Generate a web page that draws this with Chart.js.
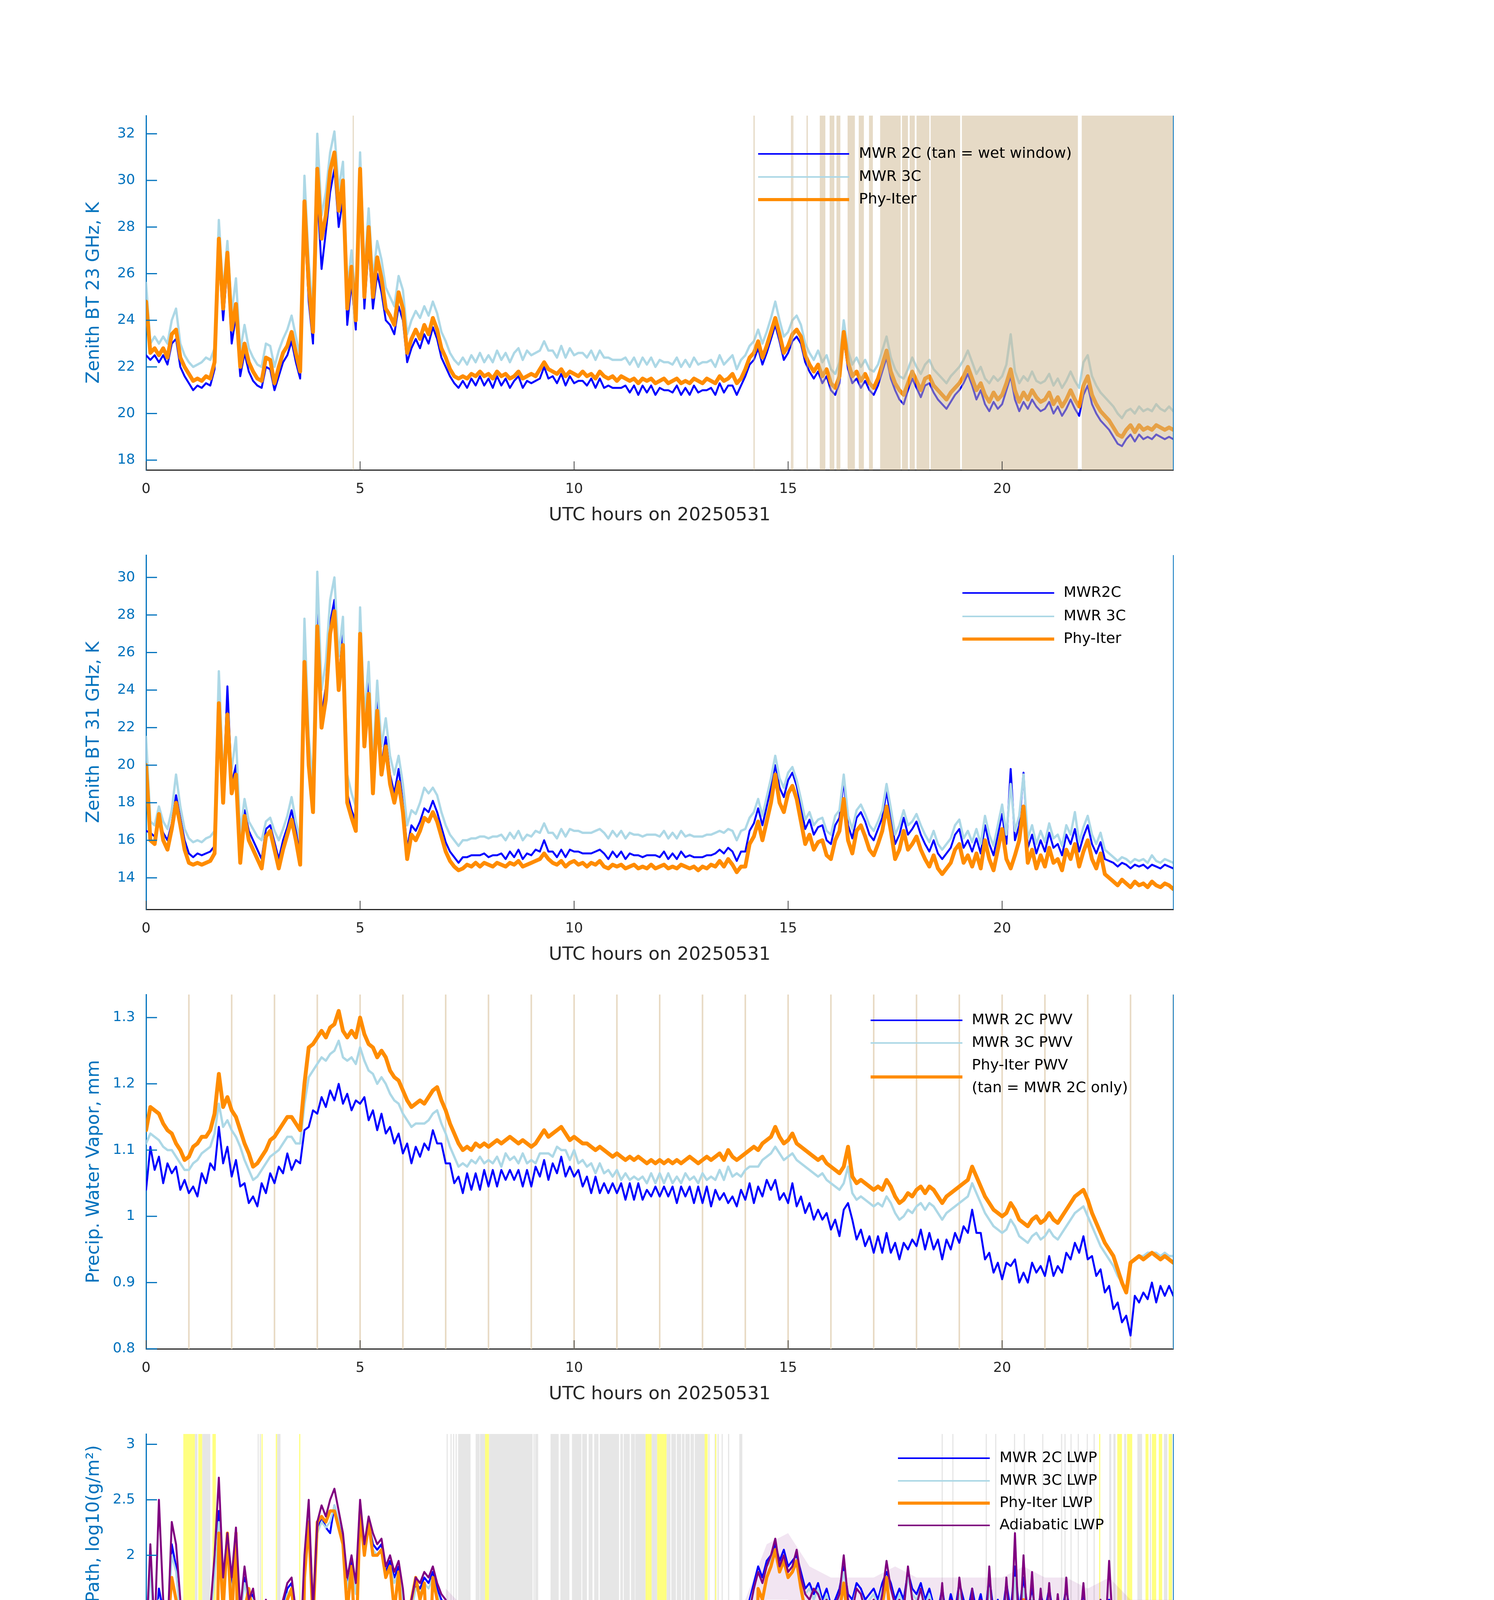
<!DOCTYPE html>
<html><head><meta charset="utf-8">
<script src="https://cdn.jsdelivr.net/npm/chart.js@4.4.1/dist/chart.umd.min.js"></script>
<style>
html,body{margin:0;padding:0;background:#fff;}
body{width:3825px;height:6000px;position:relative;overflow:hidden;}
canvas{position:absolute;left:0;}
</style></head><body>
<canvas id="c1" width="3825" height="1400" style="top:0px"></canvas>
<canvas id="c2" width="3825" height="1400" style="top:1125px"></canvas>
<canvas id="c3" width="3825" height="1400" style="top:2250px"></canvas>
<canvas id="c4" width="3825" height="1400" style="top:3375px"></canvas>
<canvas id="c5" width="3825" height="1400" style="top:4500px"></canvas>
<script>
// ---------------- DATA ----------------
const HOURS = [
0,0.1,0.2,0.3,0.4,0.5,0.6,0.7,0.8,0.9,
1,1.1,1.2,1.3,1.4,1.5,1.6,1.7,1.8,1.9,
2,2.1,2.2,2.3,2.4,2.5,2.6,2.7,2.8,2.9,
3,3.1,3.2,3.3,3.4,3.5,3.6,3.7,3.8,3.9,
4,4.1,4.2,4.3,4.4,4.5,4.6,4.7,4.8,4.9,
5,5.1,5.2,5.3,5.4,5.5,5.6,5.7,5.8,5.9,
6,6.1,6.2,6.3,6.4,6.5,6.6,6.7,6.8,6.9,
7,7.1,7.2,7.3,7.4,7.5,7.6,7.7,7.8,7.9,
8,8.1,8.2,8.3,8.4,8.5,8.6,8.7,8.8,8.9,
9,9.1,9.2,9.3,9.4,9.5,9.6,9.7,9.8,9.9,
10,10.1,10.2,10.3,10.4,10.5,10.6,10.7,10.8,10.9,
11,11.1,11.2,11.3,11.4,11.5,11.6,11.7,11.8,11.9,
12,12.1,12.2,12.3,12.4,12.5,12.6,12.7,12.8,12.9,
13,13.1,13.2,13.3,13.4,13.5,13.6,13.7,13.8,13.9,
14,14.1,14.2,14.3,14.4,14.5,14.6,14.7,14.8,14.9,
15,15.1,15.2,15.3,15.4,15.5,15.6,15.7,15.8,15.9,
16,16.1,16.2,16.3,16.4,16.5,16.6,16.7,16.8,16.9,
17,17.1,17.2,17.3,17.4,17.5,17.6,17.7,17.8,17.9,
18,18.1,18.2,18.3,18.4,18.5,18.6,18.7,18.8,18.9,
19,19.1,19.2,19.3,19.4,19.5,19.6,19.7,19.8,19.9,
20,20.1,20.2,20.3,20.4,20.5,20.6,20.7,20.8,20.9,
21,21.1,21.2,21.3,21.4,21.5,21.6,21.7,21.8,21.9,
22,22.1,22.2,22.3,22.4,22.5,22.6,22.7,22.8,22.9,
23,23.1,23.2,23.3,23.4,23.5,23.6,23.7,23.8,23.9,
24];

// Panel 1: zenith BT 23 GHz (K)
const BT23_MWR2C = [
22.5,22.3,22.5,22.2,22.5,22.1,23.0,23.2,22.0,21.6,
21.3,21.0,21.2,21.1,21.3,21.2,21.9,26.8,24.0,26.3,
23.0,24.2,21.6,22.6,21.8,21.4,21.2,21.1,22.0,21.9,
21.0,21.6,22.2,22.5,23.1,22.2,21.5,28.3,24.8,23.0,
29.5,26.2,27.8,29.5,30.5,28.0,29.2,23.8,25.6,23.6,
29.8,24.5,27.2,24.5,26.0,25.2,24.0,23.8,23.4,24.6,
24.0,22.2,22.8,23.2,22.8,23.4,23.0,23.7,23.2,22.4,
22.0,21.6,21.3,21.1,21.4,21.1,21.5,21.2,21.6,21.2,
21.5,21.1,21.6,21.2,21.5,21.1,21.4,21.6,21.1,21.4,
21.3,21.4,21.5,22.0,21.5,21.6,21.3,21.7,21.2,21.6,
21.3,21.4,21.4,21.2,21.5,21.1,21.5,21.1,21.2,21.1,
21.1,21.1,21.2,20.9,21.2,20.8,21.2,20.9,21.2,20.8,
21.1,21.0,21.0,20.9,21.2,20.8,21.1,20.8,21.2,20.9,
21.0,21.0,21.1,20.8,21.3,20.9,21.2,21.2,20.8,21.2,
21.6,22.1,22.3,22.8,22.1,22.6,23.2,23.8,23.1,22.3,
22.6,23.1,23.3,23.0,22.2,21.8,21.5,21.8,21.3,21.6,
21.0,20.8,21.3,23.2,21.9,21.3,21.5,21.1,21.4,21.0,
20.8,21.2,21.8,22.4,21.5,21.0,20.6,20.4,21.0,21.5,
21.1,20.7,21.2,21.3,20.9,20.6,20.4,20.2,20.5,20.8,
21.0,21.3,21.7,21.2,20.6,21.0,20.4,20.1,20.5,20.2,
20.4,21.0,21.6,20.6,20.1,20.5,20.2,20.6,20.3,20.1,
20.2,20.5,20.0,20.3,19.9,20.2,20.6,20.2,19.9,20.8,
21.2,20.4,20.0,19.7,19.5,19.3,19.0,18.7,18.6,18.9,
19.1,18.8,19.1,18.9,19.0,18.9,19.1,19.0,18.9,19.0,
18.9];
const BT23_MWR3C = [
25.6,23.0,23.3,23.0,23.3,23.0,24.0,24.5,23.0,22.5,
22.2,22.0,22.1,22.2,22.4,22.3,22.8,28.3,25.2,27.4,
24.3,25.8,22.7,23.8,22.8,22.4,22.1,22.0,23.0,22.9,
22.0,22.7,23.2,23.6,24.2,23.3,22.4,30.2,26.5,24.3,
32.0,28.5,29.5,31.2,32.1,29.6,30.8,25.3,27.0,24.8,
31.2,26.0,28.8,25.8,27.4,26.6,25.4,25.0,24.6,25.9,
25.3,23.4,24.0,24.4,24.1,24.6,24.2,24.8,24.3,23.5,
23.1,22.6,22.3,22.1,22.4,22.1,22.5,22.2,22.6,22.2,
22.5,22.2,22.7,22.3,22.6,22.2,22.6,22.8,22.3,22.7,
22.5,22.6,22.7,23.1,22.7,22.7,22.4,22.9,22.4,22.8,
22.5,22.6,22.6,22.4,22.7,22.3,22.7,22.4,22.4,22.3,
22.3,22.3,22.4,22.1,22.4,22.0,22.4,22.1,22.4,22.0,
22.3,22.2,22.2,22.1,22.4,22.0,22.3,22.0,22.4,22.1,
22.2,22.2,22.3,22.0,22.5,22.1,22.3,22.5,21.9,22.3,
22.5,22.9,23.1,23.6,23.0,23.5,24.1,24.8,24.0,23.3,
23.5,24.0,24.2,23.8,23.0,22.6,22.3,22.7,22.2,22.5,
21.9,21.7,22.2,24.0,22.7,22.1,22.4,22.0,22.3,21.9,
21.8,22.1,22.7,23.3,22.4,21.9,21.6,21.5,21.9,22.4,
22.0,21.7,22.1,22.3,21.9,21.7,21.5,21.3,21.6,21.8,
22.0,22.3,22.7,22.2,21.7,22.0,21.5,21.3,21.6,21.4,
21.6,22.1,23.4,21.8,21.3,21.6,21.4,21.8,21.4,21.3,
21.4,21.7,21.2,21.5,21.1,21.4,21.8,21.4,21.1,22.2,
22.5,21.6,21.2,20.9,20.7,20.5,20.3,20.0,19.8,20.1,
20.2,20.0,20.3,20.1,20.2,20.1,20.4,20.2,20.1,20.3,
20.1];
const BT23_PHYITER = [
24.8,22.6,22.8,22.5,22.8,22.4,23.4,23.6,22.4,22.0,
21.7,21.4,21.5,21.4,21.6,21.5,22.2,27.5,24.5,26.9,
23.6,24.7,22.0,23.0,22.2,21.8,21.5,21.4,22.4,22.3,
21.3,22.0,22.6,22.9,23.5,22.6,21.8,29.1,25.5,23.5,
30.5,27.5,28.5,30.4,31.2,28.7,30.0,24.5,26.3,24.0,
30.5,25.0,28.0,25.0,26.7,25.8,24.5,24.2,23.8,25.2,
24.5,22.6,23.2,23.6,23.2,23.8,23.4,24.1,23.6,22.8,
22.4,21.9,21.6,21.5,21.6,21.5,21.7,21.6,21.8,21.6,
21.7,21.5,21.8,21.6,21.7,21.5,21.6,21.8,21.5,21.6,
21.7,21.6,21.9,22.2,21.9,21.8,21.7,21.9,21.6,21.8,
21.7,21.6,21.8,21.6,21.7,21.5,21.8,21.6,21.5,21.6,
21.4,21.6,21.5,21.4,21.5,21.3,21.5,21.4,21.5,21.3,
21.4,21.5,21.3,21.4,21.5,21.3,21.4,21.3,21.5,21.4,
21.3,21.5,21.4,21.3,21.6,21.4,21.5,21.7,21.3,21.5,
21.9,22.4,22.6,23.1,22.4,22.9,23.5,24.1,23.4,22.6,
22.9,23.4,23.6,23.3,22.5,22.1,21.8,22.1,21.6,21.9,
21.3,21.1,21.6,23.5,22.2,21.6,21.8,21.4,21.7,21.3,
21.1,21.5,22.1,22.7,21.8,21.3,21.0,20.8,21.3,21.8,
21.4,21.0,21.5,21.6,21.2,21.0,20.8,20.6,20.9,21.1,
21.3,21.6,22.0,21.5,21.0,21.3,20.8,20.5,20.9,20.6,
20.8,21.3,21.9,21.0,20.5,20.9,20.6,21.0,20.7,20.5,
20.6,20.9,20.4,20.7,20.3,20.6,21.0,20.6,20.3,21.2,
21.6,20.8,20.4,20.1,19.9,19.7,19.4,19.1,19.0,19.3,
19.5,19.2,19.5,19.3,19.4,19.3,19.5,19.4,19.3,19.4,
19.3];
// tan "wet window" periods, hours [start, end]
const WET_WINDOW = [[4.83,4.85],[14.19,14.22],[15.07,15.09],[15.1,15.12],[15.43,15.46],[15.74,15.87],[15.97,16.08],[16.13,16.22],[16.39,16.56],[16.65,16.77],[16.89,16.98],[17.15,17.63],[17.66,17.8],[17.84,17.96],[18.0,18.3],[18.33,19.02],[19.06,21.77],[21.86,24.0]];

// Panel 2: zenith BT 31 GHz (K)
const BT31_MWR2C = [
16.5,16.4,16.2,17.0,16.4,16.0,16.9,18.4,17.2,16.0,
15.3,15.1,15.3,15.2,15.3,15.4,15.7,23.0,18.4,24.2,
19.0,20.0,15.4,17.6,16.5,16.0,15.5,15.0,16.6,16.8,
15.9,15.0,16.0,16.7,17.6,16.5,15.2,26.2,20.6,18.0,
28.2,22.6,24.2,27.6,28.8,24.6,27.0,18.5,17.6,17.0,
27.6,21.6,24.4,19.0,23.4,20.0,21.5,19.5,18.5,19.8,
18.0,15.6,16.8,16.5,17.0,17.7,17.5,18.1,17.5,16.7,
15.9,15.4,15.1,14.8,15.1,15.1,15.2,15.2,15.2,15.3,
15.1,15.2,15.2,15.3,15.0,15.4,15.1,15.5,15.0,15.3,
15.2,15.5,15.4,16.0,15.4,15.4,15.1,15.5,15.1,15.5,
15.4,15.4,15.3,15.3,15.3,15.4,15.5,15.3,15.0,15.4,
15.1,15.4,15.0,15.3,15.2,15.2,15.1,15.2,15.2,15.2,
15.1,15.4,15.0,15.3,15.0,15.4,15.1,15.2,15.1,15.1,
15.1,15.2,15.2,15.3,15.5,15.3,15.6,15.4,14.9,15.4,
15.4,16.5,16.9,17.7,16.8,17.8,18.8,20.0,18.8,18.3,
19.2,19.6,18.9,17.8,16.6,17.1,16.3,16.7,16.8,16.0,
15.8,16.8,17.2,19.2,16.8,16.1,17.2,17.5,17.0,16.3,
16.0,16.6,17.2,18.6,17.2,15.8,16.3,17.2,16.3,16.6,
17.0,16.3,15.8,15.4,16.0,15.3,15.0,15.3,15.6,16.3,
16.6,15.6,16.0,15.4,16.1,15.3,16.8,15.8,15.2,16.3,
17.4,15.8,19.8,16.0,16.8,19.6,15.6,16.3,15.3,16.0,
15.4,16.4,15.6,15.8,15.2,16.3,15.8,16.6,15.4,16.2,
16.8,15.8,15.3,15.9,15.0,14.9,14.8,14.6,14.8,14.7,
14.5,14.7,14.6,14.7,14.5,14.7,14.6,14.5,14.7,14.6,
14.5];
const BT31_MWR3C = [
21.5,17.0,16.8,17.8,17.0,16.6,17.6,19.5,17.8,16.6,
16.1,15.9,16.0,15.9,16.1,16.2,16.5,25.0,19.5,22.0,
19.8,21.5,16.4,18.2,17.0,16.6,16.2,16.0,17.0,17.2,
16.5,16.0,16.6,17.3,18.3,17.0,16.0,27.8,21.5,19.0,
30.3,24.0,25.5,28.8,30.0,25.8,27.9,19.5,18.5,17.8,
28.4,22.5,25.5,20.0,24.5,21.0,22.5,20.5,19.5,20.5,
19.0,16.8,17.6,17.4,18.0,18.8,18.5,18.8,18.4,17.5,
16.8,16.3,16.0,15.7,16.0,16.0,16.1,16.1,16.2,16.2,
16.1,16.2,16.2,16.3,16.0,16.4,16.1,16.5,16.0,16.3,
16.2,16.5,16.4,16.9,16.4,16.4,16.1,16.6,16.2,16.6,
16.5,16.5,16.4,16.4,16.4,16.5,16.6,16.4,16.1,16.5,
16.2,16.5,16.1,16.4,16.3,16.3,16.2,16.3,16.3,16.3,
16.2,16.5,16.1,16.4,16.1,16.5,16.2,16.3,16.2,16.2,
16.2,16.3,16.3,16.4,16.5,16.4,16.6,16.5,16.0,16.5,
16.6,17.2,17.5,18.2,17.3,18.3,19.3,20.5,19.3,18.8,
19.6,19.9,19.2,18.2,17.1,17.5,16.8,17.1,17.2,16.5,
16.3,17.3,17.6,19.5,17.3,16.6,17.6,17.9,17.4,16.8,
16.5,17.0,17.6,19.0,17.7,16.3,16.8,17.6,16.8,17.0,
17.4,16.8,16.3,15.9,16.5,15.8,15.5,15.8,16.1,16.8,
17.1,16.1,16.5,15.9,16.6,15.8,17.3,16.3,15.7,16.8,
17.9,16.3,19.0,16.5,17.3,19.5,16.1,16.8,15.8,16.5,
15.9,16.9,16.1,16.3,15.7,16.8,16.3,17.5,15.9,16.7,
17.3,16.3,15.8,16.4,15.5,15.3,15.1,14.9,15.1,15.0,
14.8,15.0,14.9,15.0,14.8,15.2,14.9,14.8,15.0,14.9,
14.8];
const BT31_PHYITER = [
20.0,16.0,15.8,17.4,16.0,15.5,16.6,18.0,16.8,15.5,
14.8,14.7,14.8,14.7,14.8,14.9,15.3,23.3,18.0,22.7,
18.5,19.5,14.8,17.3,16.0,15.5,15.0,14.5,16.2,16.5,
15.5,14.5,15.5,16.3,17.1,16.0,14.7,25.5,20.0,17.5,
27.4,22.0,23.5,27.0,28.2,24.0,26.4,18.0,17.2,16.5,
27.0,21.0,23.8,18.5,22.9,19.5,21.0,19.0,18.0,19.1,
17.5,15.0,16.3,16.0,16.5,17.2,17.0,17.5,17.0,16.2,
15.4,14.9,14.6,14.4,14.5,14.7,14.6,14.8,14.6,14.8,
14.7,14.6,14.8,14.7,14.6,14.8,14.7,14.9,14.6,14.7,
14.8,14.9,15.0,15.3,15.0,14.8,14.7,14.9,14.6,14.8,
14.9,14.7,14.8,14.6,14.8,14.7,14.9,14.6,14.5,14.7,
14.6,14.7,14.5,14.6,14.7,14.5,14.6,14.5,14.7,14.5,
14.6,14.7,14.5,14.6,14.5,14.7,14.6,14.5,14.6,14.4,
14.6,14.5,14.7,14.6,14.9,14.6,15.0,14.7,14.3,14.6,
14.6,15.8,16.2,17.0,16.0,17.0,18.0,19.5,18.0,17.5,
18.5,18.9,18.2,17.0,15.8,16.3,15.5,15.9,16.0,15.2,
15.0,16.0,16.5,18.2,16.0,15.3,16.5,16.8,16.2,15.5,
15.2,15.8,16.5,17.8,16.5,15.0,15.5,16.5,15.5,15.8,
16.2,15.5,15.0,14.6,15.2,14.5,14.2,14.5,14.8,15.5,
15.8,14.8,15.2,14.6,15.3,14.5,16.0,15.0,14.4,15.5,
16.6,15.0,14.5,15.2,16.0,17.8,14.8,15.5,14.5,15.2,
14.6,15.6,14.8,15.0,14.4,15.5,15.0,15.8,14.6,15.4,
16.0,15.0,14.5,15.3,14.2,14.0,13.8,13.6,13.9,13.7,
13.5,13.8,13.6,13.7,13.5,13.8,13.6,13.5,13.7,13.6,
13.4];

// Panel 3: precipitable water vapor (mm)
const PWV_MWR2C = [
1.04,1.105,1.07,1.09,1.05,1.08,1.065,1.075,1.04,1.055,
1.035,1.045,1.03,1.065,1.05,1.08,1.07,1.135,1.08,1.105,
1.06,1.085,1.045,1.05,1.02,1.03,1.015,1.05,1.035,1.065,
1.05,1.075,1.065,1.095,1.07,1.085,1.08,1.13,1.135,1.16,
1.155,1.18,1.165,1.19,1.175,1.2,1.17,1.185,1.16,1.175,
1.17,1.18,1.145,1.16,1.13,1.155,1.125,1.135,1.11,1.125,
1.095,1.11,1.08,1.105,1.09,1.11,1.1,1.13,1.11,1.11,
1.08,1.08,1.05,1.06,1.035,1.065,1.04,1.065,1.04,1.07,
1.045,1.07,1.045,1.07,1.055,1.07,1.055,1.07,1.045,1.07,
1.045,1.075,1.06,1.085,1.055,1.08,1.065,1.09,1.06,1.075,
1.06,1.07,1.045,1.06,1.035,1.06,1.035,1.05,1.035,1.05,
1.035,1.05,1.025,1.05,1.025,1.05,1.025,1.04,1.03,1.045,
1.03,1.045,1.03,1.045,1.02,1.045,1.03,1.045,1.02,1.045,
1.02,1.045,1.015,1.04,1.025,1.035,1.02,1.03,1.015,1.04,
1.025,1.05,1.02,1.045,1.03,1.055,1.04,1.055,1.025,1.035,
1.02,1.05,1.015,1.03,1.005,1.02,0.995,1.01,0.995,1.005,
0.98,0.995,0.97,1.01,1.02,0.995,0.965,0.98,0.955,0.97,
0.945,0.97,0.945,0.975,0.945,0.96,0.935,0.96,0.95,0.965,
0.955,0.98,0.95,0.975,0.95,0.965,0.935,0.965,0.95,0.975,
0.96,0.985,0.975,1.01,0.975,0.975,0.935,0.945,0.915,0.93,
0.905,0.93,0.925,0.935,0.9,0.915,0.9,0.93,0.915,0.925,
0.91,0.94,0.91,0.925,0.915,0.945,0.935,0.96,0.945,0.97,
0.935,0.94,0.91,0.92,0.885,0.895,0.86,0.87,0.84,0.85,
0.82,0.88,0.87,0.885,0.875,0.9,0.87,0.895,0.88,0.895,
0.88];
const PWV_MWR3C = [
1.11,1.125,1.12,1.115,1.105,1.1,1.1,1.09,1.08,1.07,
1.07,1.08,1.085,1.095,1.1,1.105,1.125,1.17,1.135,1.145,
1.13,1.12,1.105,1.085,1.07,1.055,1.06,1.07,1.08,1.09,
1.095,1.1,1.11,1.12,1.12,1.11,1.11,1.17,1.21,1.22,
1.23,1.24,1.235,1.245,1.25,1.265,1.24,1.235,1.24,1.23,
1.255,1.235,1.22,1.215,1.2,1.21,1.2,1.185,1.175,1.17,
1.155,1.145,1.135,1.14,1.14,1.14,1.145,1.155,1.16,1.14,
1.125,1.105,1.09,1.075,1.08,1.075,1.085,1.08,1.09,1.08,
1.085,1.08,1.09,1.075,1.095,1.085,1.09,1.08,1.095,1.08,
1.085,1.08,1.095,1.095,1.095,1.09,1.105,1.1,1.1,1.085,
1.1,1.08,1.085,1.075,1.08,1.065,1.08,1.065,1.07,1.06,
1.07,1.055,1.065,1.055,1.06,1.055,1.06,1.05,1.065,1.05,
1.065,1.05,1.065,1.05,1.06,1.05,1.065,1.055,1.06,1.05,
1.065,1.055,1.06,1.055,1.07,1.055,1.075,1.06,1.065,1.06,
1.07,1.075,1.075,1.075,1.085,1.09,1.095,1.105,1.095,1.085,
1.09,1.095,1.085,1.08,1.075,1.07,1.065,1.06,1.065,1.055,
1.05,1.045,1.04,1.05,1.075,1.035,1.025,1.03,1.025,1.02,
1.015,1.02,1.015,1.03,1.02,1.005,0.995,1.0,1.01,1.005,
1.015,1.02,1.01,1.02,1.015,1.005,0.995,1.005,1.01,1.015,
1.02,1.025,1.03,1.05,1.035,1.02,1.005,0.995,0.985,0.98,
0.975,0.98,0.995,0.985,0.97,0.965,0.96,0.97,0.975,0.965,
0.97,0.98,0.97,0.965,0.975,0.985,0.995,1.005,1.01,1.015,
1.0,0.985,0.97,0.955,0.945,0.935,0.925,0.91,0.9,0.89,
0.93,0.935,0.94,0.94,0.945,0.945,0.945,0.94,0.945,0.94,
0.94];
const PWV_PHYITER = [
1.13,1.165,1.16,1.155,1.14,1.13,1.125,1.11,1.1,1.085,
1.09,1.105,1.11,1.12,1.12,1.13,1.155,1.215,1.165,1.18,
1.16,1.15,1.13,1.11,1.095,1.075,1.08,1.09,1.1,1.115,
1.12,1.13,1.14,1.15,1.15,1.14,1.13,1.2,1.255,1.26,
1.27,1.28,1.27,1.285,1.29,1.31,1.28,1.27,1.28,1.27,
1.3,1.275,1.26,1.255,1.24,1.25,1.24,1.22,1.21,1.205,
1.19,1.175,1.165,1.17,1.175,1.17,1.18,1.19,1.195,1.175,
1.16,1.14,1.125,1.11,1.1,1.105,1.1,1.11,1.105,1.11,
1.105,1.11,1.115,1.11,1.115,1.12,1.115,1.11,1.115,1.11,
1.105,1.11,1.12,1.13,1.12,1.125,1.13,1.135,1.125,1.115,
1.12,1.115,1.11,1.11,1.105,1.1,1.105,1.1,1.095,1.09,
1.095,1.09,1.085,1.09,1.085,1.09,1.085,1.08,1.085,1.08,
1.085,1.08,1.085,1.08,1.085,1.08,1.085,1.09,1.085,1.08,
1.085,1.09,1.085,1.09,1.095,1.085,1.1,1.09,1.085,1.09,
1.095,1.1,1.105,1.1,1.11,1.115,1.12,1.135,1.12,1.11,
1.115,1.125,1.11,1.105,1.1,1.095,1.09,1.085,1.09,1.08,
1.075,1.07,1.065,1.075,1.105,1.06,1.05,1.055,1.05,1.045,
1.04,1.045,1.04,1.055,1.045,1.03,1.02,1.025,1.035,1.03,
1.04,1.045,1.035,1.045,1.04,1.03,1.02,1.03,1.035,1.04,
1.045,1.05,1.055,1.075,1.06,1.045,1.03,1.02,1.01,1.005,
1.0,1.005,1.02,1.01,0.995,0.99,0.985,0.995,1.0,0.99,
0.995,1.005,0.995,0.99,1.0,1.01,1.02,1.03,1.035,1.04,
1.025,1.005,0.99,0.975,0.96,0.95,0.94,0.92,0.9,0.885,
0.93,0.935,0.94,0.935,0.94,0.945,0.94,0.935,0.94,0.935,
0.93];
// hourly tan marks ("MWR 2C only")
const MWR2C_ONLY_HOURS = [1,2,3,4,5,6,7,8,9,10,11,12,13,14,15,16,17,18,19,20,21,22,23,24];

// Panel 4: log10 LWP; -0.5 marks values below the axis (zero LWP)
const LWP_MWR2C = [
1.2,2.0,1.2,1.7,1.5,1.3,2.1,1.9,1.5,1.25,
1.3,1.25,1.3,1.2,1.3,1.45,1.9,2.4,1.8,2.1,
1.7,2.1,1.5,1.8,1.6,1.65,1.4,1.2,1.55,1.3,
1.15,1.45,1.55,1.7,1.75,1.45,1.1,1.9,2.4,1.5,
2.2,2.35,2.25,2.2,2.45,2.3,2.15,1.75,1.95,1.7,
2.4,2.05,2.3,2.1,2.05,2.1,1.85,1.95,1.8,1.9,
1.65,1.3,1.55,1.75,1.7,1.8,1.75,1.85,1.7,1.6,
1.55,1.4,1.3,1.45,1.25,1.4,1.2,1.35,1.25,1.3,
1.2,1.35,1.25,1.3,1.2,1.35,1.3,1.2,1.4,1.25,
1.3,1.2,1.35,1.45,1.3,1.2,1.35,1.25,1.3,1.4,
1.25,1.35,1.2,1.3,1.45,1.25,1.35,1.2,1.3,1.4,
1.25,1.3,1.2,1.35,1.25,1.3,1.4,1.2,1.3,1.25,
1.35,1.2,1.3,1.25,1.35,1.2,1.3,1.25,1.2,1.3,
1.25,1.35,1.3,1.45,1.35,1.5,1.4,1.55,1.4,1.45,
1.5,1.6,1.75,1.9,1.8,1.95,2.0,2.1,1.95,2.05,
1.9,1.95,2.0,1.85,1.7,1.75,1.65,1.75,1.6,1.7,
1.55,1.6,1.7,1.9,1.65,1.6,1.75,1.7,1.6,1.65,
1.7,1.6,1.75,1.85,1.75,1.6,1.7,1.6,1.85,1.7,
1.65,1.75,1.6,1.7,1.55,1.5,1.7,1.45,1.65,1.5,
1.75,1.6,1.5,1.7,1.5,1.65,1.45,1.8,1.5,1.6,
1.45,1.75,1.5,1.9,1.5,1.8,1.5,1.7,1.45,1.65,
1.5,1.7,1.45,1.6,1.5,1.7,1.45,1.55,1.5,1.65,
1.4,1.5,1.4,1.55,1.4,1.6,1.4,1.45,1.35,1.4,
1.35,1.4,1.3,1.45,1.35,1.4,1.3,1.4,1.35,1.3,
1.35];
const LWP_MWR3C = [
1.1,1.9,1.15,1.6,1.45,1.25,2.0,1.85,1.45,1.2,
1.3,1.35,1.3,1.25,1.3,1.4,1.8,2.3,1.75,2.05,
1.65,2.05,1.45,1.75,1.55,1.6,1.35,1.15,1.5,1.25,
1.1,1.4,1.5,1.65,1.7,1.4,1.05,1.85,2.35,1.45,
2.2,2.3,2.25,2.3,2.45,2.3,2.1,1.7,1.9,1.65,
2.35,2.0,2.25,2.05,2.0,2.05,1.8,1.9,1.75,1.85,
1.6,1.25,1.5,1.7,1.65,1.75,1.7,1.8,1.65,1.55,
1.5,1.35,1.25,1.3,1.2,1.3,1.15,1.3,1.2,1.25,
1.15,1.3,1.2,1.25,1.3,1.2,1.25,1.35,1.3,1.2,
1.25,1.3,1.2,1.4,1.25,1.3,1.2,1.3,1.35,1.25,
1.3,1.25,1.35,1.45,1.3,1.2,1.3,1.35,1.25,1.3,
1.2,1.35,1.25,1.3,1.2,1.25,1.3,1.2,1.25,1.3,
1.2,1.25,1.3,1.2,1.25,1.15,1.25,1.2,1.3,1.25,
1.2,1.3,1.25,1.35,1.3,1.4,1.35,1.45,1.35,1.4,
1.45,1.55,1.7,1.85,1.75,1.9,1.95,2.05,1.9,2.0,
1.85,1.9,1.95,1.8,1.65,1.7,1.6,1.7,1.55,1.65,
1.5,1.3,1.65,1.85,1.6,1.55,1.7,1.65,1.55,1.6,
1.65,1.55,1.7,1.8,1.7,1.55,1.65,1.55,1.8,1.65,
1.6,1.7,1.55,1.65,1.5,1.45,1.6,1.4,1.55,1.4,
1.65,1.5,1.4,1.6,1.4,1.55,1.35,1.7,1.4,1.5,
1.35,1.65,1.4,1.8,1.4,1.7,1.4,1.6,1.35,1.55,
1.4,1.6,1.35,1.5,1.4,1.6,1.35,1.45,1.4,1.55,
1.3,1.35,1.2,1.3,1.15,1.25,1.1,1.2,1.05,1.15,
1.05,1.1,1.0,1.1,1.0,1.05,0.95,1.05,0.95,1.0,
0.95];
const LWP_PHYITER = [
0.7,1.0,-0.5,1.2,-0.5,1.3,1.8,1.6,1.0,-0.5,
1.2,1.25,-0.5,1.15,-0.5,1.3,-0.5,2.2,1.5,2.2,
1.4,2.2,-0.5,1.5,1.7,1.45,1.1,-0.5,1.3,-0.5,
1.0,-0.5,1.45,1.6,1.7,1.3,-0.5,1.8,2.3,1.4,
2.3,2.35,2.3,2.4,2.4,2.25,2.1,1.5,1.9,1.1,
2.4,2.0,2.3,2.0,2.0,2.05,1.8,1.9,1.5,1.85,
1.2,-0.5,1.6,1.8,1.6,1.75,0.8,1.8,1.6,1.4,
1.5,0.9,-0.5,0.6,0.9,0.4,0.7,-0.5,0.5,0.2,
0.9,-0.5,0.8,0.3,1.0,0.5,-0.5,0.9,0.4,1.1,
0.6,0.95,0.3,1.1,0.8,-0.5,1.1,0.5,0.9,0.6,
1.1,0.4,0.9,-0.5,0.7,1.0,0.5,0.95,0.3,0.8,
1.0,0.5,0.85,0.2,0.9,0.6,-0.5,0.8,1.0,0.5,
0.9,0.3,1.0,0.6,-0.5,0.9,0.5,1.0,0.4,0.8,
-0.5,1.0,0.6,1.1,-0.5,1.2,0.8,-0.5,1.2,-0.5,
1.3,1.5,0.2,1.7,1.6,1.8,1.9,2.05,1.85,1.95,
1.8,1.85,1.95,1.7,1.5,1.55,1.35,1.55,1.45,1.5,
1.2,0.8,1.5,1.75,1.4,1.4,1.55,1.35,1.45,1.2,
1.5,1.3,1.55,1.8,1.4,0.9,1.45,1.3,1.5,1.0,
1.3,1.4,0.8,1.3,0.9,1.2,-0.5,1.3,-0.5,1.1,
-0.5,1.2,-0.5,1.4,0.3,1.2,-0.5,1.3,-0.5,1.1,
-0.5,1.5,-0.5,1.2,-0.5,1.6,-0.5,1.3,0.2,1.2,
-0.5,1.3,-0.5,1.2,-0.5,1.4,0.2,1.2,-0.5,1.3,
-0.5,1.2,-0.5,1.1,-0.5,1.2,-0.5,1.1,-0.5,0.2,
-0.5,1.0,-0.5,0.9,-0.5,0.2,-0.5,0.8,-0.5,1.0,
-0.5];
const LWP_ADIABATIC = [
1.2,2.1,1.3,2.5,1.6,1.3,2.3,2.1,1.6,1.2,
1.3,1.25,1.3,1.2,1.3,1.5,2.0,2.7,1.8,2.2,
1.8,2.25,1.5,1.9,1.6,1.7,1.4,1.2,1.6,1.3,
1.15,1.5,1.6,1.75,1.8,1.5,1.1,2.0,2.5,1.5,
2.3,2.45,2.35,2.5,2.6,2.4,2.2,1.8,2.0,1.75,
2.5,2.1,2.35,2.2,2.1,2.15,1.9,2.0,1.85,1.95,
1.7,1.3,1.6,1.8,1.75,1.85,1.8,1.9,1.75,1.65,
1.6,1.3,1.22,1.2,1.2,1.3,1.2,1.2,1.2,1.25,
1.2,1.2,1.2,1.2,1.2,1.2,1.2,1.2,1.2,1.18,
1.16,1.16,1.2,1.55,1.2,1.16,1.25,1.16,1.16,1.16,
1.2,1.3,1.16,1.16,1.16,1.16,1.18,1.16,1.16,1.16,
1.18,1.16,1.16,1.16,1.16,1.16,1.16,1.16,1.16,1.16,
1.16,1.16,1.16,1.16,1.16,1.16,1.16,1.16,1.16,1.16,
1.2,1.16,1.16,1.16,1.16,1.3,1.16,1.4,1.16,1.16,
1.3,1.5,1.7,1.85,1.75,1.9,2.0,2.15,1.9,2.0,
1.85,1.9,2.05,1.8,1.65,1.6,1.7,1.65,1.55,1.6,
1.4,1.55,1.65,2.0,1.6,1.5,1.7,1.65,1.5,1.55,
1.6,1.45,1.65,1.95,1.7,1.55,1.6,1.5,1.9,1.6,
1.55,1.7,1.5,1.6,1.45,1.3,1.75,1.2,1.6,1.3,
1.8,1.5,1.2,1.7,1.25,1.6,1.2,1.9,1.3,1.55,
1.2,1.8,1.2,2.2,1.2,2.0,1.3,1.85,1.2,1.7,
1.25,1.75,1.2,1.65,1.25,1.8,1.2,1.55,1.3,1.75,
1.2,1.5,1.2,1.6,1.2,1.95,1.25,1.4,1.2,1.35,
1.2,1.3,1.2,1.4,1.25,1.2,1.3,1.2,1.35,1.2,
1.2];
// uncertainty envelopes (every 0.5 h)
const BAND_HOURS = [0,0.5,1,1.5,2,2.5,3,3.5,4,4.5,5,5.5,6,6.5,7,7.5,8,8.5,9,9.5,10,10.5,11,11.5,12,12.5,13,13.5,14,14.5,15,15.5,16,16.5,17,17.5,18,18.5,19,19.5,20,20.5,21,21.5,22,22.5,23,23.5,24];
const ADIA_LO = [null,null,null,null,null,null,null,null,null,null,null,null,null,null,1.2,0.6,0.6,0.6,0.6,0.55,0.55,0.55,0.55,0.55,0.55,0.55,0.55,0.6,1.0,1.6,1.6,1.3,1.2,1.3,1.3,1.3,1.2,0.9,0.8,0.8,0.7,0.7,0.7,0.7,0.7,0.6,0.6,0.6,0.6];
const ADIA_HI = [null,null,null,null,null,null,null,null,null,null,null,null,null,null,1.7,1.5,1.5,1.5,1.5,1.5,1.5,1.5,1.5,1.5,1.5,1.5,1.5,1.5,1.6,2.1,2.2,1.9,1.8,1.8,1.8,1.9,1.8,1.8,1.8,1.8,1.8,1.9,1.8,1.8,1.7,1.8,1.6,1.6,1.6];
const PHYITER_LO = [null,null,null,null,null,null,null,null,null,null,null,null,null,null,0.9,-0.2,-0.2,-0.2,-0.2,-0.2,-0.2,-0.2,-0.2,-0.2,-0.2,-0.2,-0.2,-0.2,0.6,null,null,null,null,null,null,null,null,0.4,-0.2,-0.2,-0.2,-0.2,-0.2,-0.2,-0.2,-0.2,-0.2,-0.2,-0.2];
const PHYITER_HI = [null,null,null,null,null,null,null,null,null,null,null,null,null,null,1.4,1.1,1.1,1.1,1.1,1.1,1.1,1.1,1.1,1.1,1.1,1.1,1.1,1.1,1.3,null,null,null,null,null,null,null,null,1.2,1.2,1.2,1.2,1.2,1.2,1.2,1.2,1.2,1.2,1.2,1.2];
const LWP_YELLOW = [[0.87,1.14],[1.22,1.31],[1.55,1.63],[2.7,2.72],[3.03,3.06],[3.58,3.6],[7.92,8.01],[11.67,11.81],[11.94,12.16],[13.05,13.12],[13.3,13.32],[22.27,22.29],[22.69,22.8],[22.92,23.04],[23.35,23.42],[23.5,23.6],[23.66,23.74],[23.89,23.97]];
const LWP_GREY = [[1.14,1.2],[1.31,1.5],[2.61,2.63],[2.66,2.68],[3.06,3.14],[7.03,7.04],[7.12,7.13],[7.18,7.19],[7.24,7.25],[7.29,7.58],[7.7,7.79],[7.8,7.92],[8.01,9.03],[9.06,9.07],[9.09,9.16],[9.45,9.64],[9.68,9.89],[9.95,10.17],[10.19,10.3],[10.34,10.43],[10.47,10.57],[10.6,11.05],[11.08,11.14],[11.16,11.3],[11.33,11.42],[11.43,11.67],[11.81,11.94],[12.16,12.25],[12.27,12.38],[12.4,12.5],[12.52,12.58],[12.6,12.7],[12.72,12.8],[12.82,13.05],[13.14,13.16],[13.29,13.3],[13.36,13.37],[13.45,13.47],[13.6,13.62],[13.86,13.93],[18.59,18.61],[18.84,18.86],[19.62,19.64],[19.84,19.86],[20.28,20.3],[20.51,20.53],[20.94,20.96],[21.38,21.4],[21.46,21.48],[21.6,21.62],[21.77,21.79],[21.98,22.0],[22.14,22.16],[22.5,22.55],[22.6,22.65],[22.85,22.9],[23.16,23.27],[23.45,23.48],[23.78,23.86]];

// Panel 5: DQ flag runs, hours [start, end] per flag value
const FLAG0_RUNS = [[0,0.88],[1.2,1.2],[1.55,2.58],[2.7,3.0],[3.12,7.31],[7.56,7.81],[9.03,9.45],[9.65,9.91],[10.16,10.16],[10.31,10.31],[10.43,10.43],[10.6,10.6],[11.05,11.05],[11.17,11.17],[11.38,11.38],[12.37,12.37],[12.59,12.59],[13.11,13.11],[13.23,13.75],[13.84,22.53],[22.6,22.6],[22.84,22.84],[22.92,22.92],[23.14,23.34],[23.63,23.63],[23.86,23.97]];
const FLAG3_RUNS = [[0.88,0.88],[1.16,1.16],[1.23,1.23],[1.35,1.35],[1.43,1.43],[3.07,3.07],[7.31,7.43],[7.61,7.61],[7.86,7.86],[8.15,8.27],[8.49,8.49],[8.61,9.11],[9.16,9.16],[9.47,9.62],[10.08,10.14],[10.72,10.72],[10.84,10.84],[11.48,11.61],[12.46,12.46],[12.71,12.71],[12.96,12.96],[19.63,19.63],[19.76,19.76],[20.94,20.94]];
const FLAG4_RUNS = [[0,0],[1.32,1.49],[2.58,2.75],[3.07,3.14],[3.6,3.6],[7.04,7.2],[7.26,7.46],[7.52,7.85],[7.98,8.69],[8.83,8.95],[9.1,9.2],[9.47,9.47],[9.81,10.05],[10.13,11.56],[11.61,11.61],[11.78,11.93],[12.17,13.11],[13.15,13.3],[13.42,13.67],[13.76,13.92],[18.62,18.62],[18.85,18.85],[19.63,19.63],[19.75,19.75],[19.97,19.97],[20.17,20.17],[20.4,20.4],[21.38,21.57],[22.03,22.03],[22.16,22.16],[22.26,22.26],[22.5,23.04],[23.13,23.38],[23.49,23.49],[23.66,24.0]];
const FLAG5_RUNS = [[0.88,1.23],[1.43,1.43],[1.55,1.55],[2.7,2.7],[3.04,3.04],[3.58,3.58],[7.93,8.0],[11.66,11.81],[11.93,12.2],[12.49,12.49],[12.59,12.59],[12.74,12.74],[13.08,13.08],[13.77,13.77],[20.94,20.94],[22.28,22.28],[22.53,22.53],[22.67,22.78],[22.93,23.07],[23.26,23.26],[23.38,23.59],[23.68,24.0]];
const FLAG6_RUNS = [[14.67,14.67],[23.93,23.93]];

// axes
const X_TICKS = [0,5,10,15,20];
const Y1_TICKS = [18,20,22,24,26,28,30,32];
const Y2_TICKS = [14,16,18,20,22,24,26,28,30];
const Y3_TICKS = [0.8,0.9,1,1.1,1.2,1.3];
const Y3_LABELS = ['0.8','0.9','1','1.1','1.2','1.3'];
const Y4_TICKS = [0,0.5,1,1.5,2,2.5,3];
const Y4_LABELS = ['0','0.5','1','1.5','2','2.5','3'];
const Y5_TICKS = [0,2,4,6,8,10];
const X_TITLE = 'UTC hours on 20250531';

// ---------------- STYLE / RENDER ----------------
const FONT = 'DejaVu Sans';
const AXIS_BLUE = '#0072BD';
const C_BLUE = '#0000FF', C_LBLUE = '#ADD8E6', C_ORANGE = '#FF8C00', C_PURPLE = '#800080';

const DECO = {
  c1: {over:[{color:'rgba(205,181,141,0.5)', ranges:WET_WINDOW}],
       legend:{x0:1941,x1:2174,tx:2199, rows:[{ds:0,ly:394,w:4},{ds:1,ly:453,w:4},{ds:2,ly:511,w:8}]}},
  c2: {legend:{x0:2464,x1:2699,tx:2723, rows:[{ds:0,ly:393,w:4},{ds:1,ly:453,w:4},{ds:2,ly:511,w:8}]}},
  c3: {under:[{color:'#E8DAC4', ranges:MWR2C_ONLY_HOURS.map(h=>[h,h]), minW:4}],
       legend:{x0:2229,x1:2464,tx:2488, rows:[{ds:0,ly:362,w:4},{ds:1,ly:420,w:4},{ds:2,ly:507,w:8,texts:[[null,478],['(tan = MWR 2C only)',536]]}]}},
  c4: {under:[{color:'#E6E6E6', ranges:LWP_GREY, minW:3},{color:'#FFFF80', ranges:LWP_YELLOW, minW:3}],
       legend:{x0:2299,x1:2534,tx:2559, rows:[{ds:0,ly:358,w:4},{ds:1,ly:416,w:4},{ds:2,ly:473,w:8},{ds:3,ly:530,w:4}]}},
  c5: {}
};

function drawBands(chart, list){
  const {ctx, chartArea:a, scales:{x}} = chart;
  ctx.save();
  ctx.beginPath(); ctx.rect(a.left, a.top, a.right-a.left, a.bottom-a.top); ctx.clip();
  for (const b of list){
    ctx.fillStyle = b.color;
    for (const [s,e] of b.ranges){
      let x0 = x.getPixelForValue(s), x1 = x.getPixelForValue(e);
      const mw = b.minW || 3;
      if (x1 - x0 < mw){ const c=(x0+x1)/2; x0=c-mw/2; x1=c+mw/2; }
      ctx.fillRect(x0, a.top, x1-x0, a.bottom-a.top);
    }
  }
  ctx.restore();
}

const decoPlugin = {
  id:'deco',
  beforeDatasetsDraw(chart){ const d=DECO[chart.canvas.id]; if(d && d.under) drawBands(chart, d.under); },
  afterDatasetsDraw(chart){ const d=DECO[chart.canvas.id]; if(d && d.over) drawBands(chart, d.over); },
  afterDraw(chart){
    const d = DECO[chart.canvas.id] || {};
    const {ctx, chartArea:a, scales:{x,y}} = chart;
    ctx.save();
    ctx.lineCap = 'butt';
    ctx.strokeStyle = '#404040'; ctx.lineWidth = 2;
    x.ticks.forEach(t=>{ const p=x.getPixelForValue(t.value); ctx.beginPath(); ctx.moveTo(p,a.bottom); ctx.lineTo(p,a.bottom-22); ctx.stroke(); });
    ctx.strokeStyle = AXIS_BLUE; ctx.lineWidth = 3;
    y.ticks.forEach(t=>{ const p=y.getPixelForValue(t.value); ctx.beginPath(); ctx.moveTo(a.left,p); ctx.lineTo(a.left+28,p); ctx.stroke(); });
    ctx.lineWidth = 2;
    ctx.beginPath(); ctx.moveTo(a.right,a.top); ctx.lineTo(a.right,a.bottom); ctx.stroke();
    if (d.legend){
      const L = d.legend;
      ctx.font = '38px "'+FONT+'"'; ctx.textBaseline='middle'; ctx.textAlign='left'; ctx.fillStyle='#000';
      L.rows.forEach(r=>{
        const ds = chart.data.datasets[r.ds];
        ctx.strokeStyle = ds.borderColor; ctx.lineWidth = r.w;
        ctx.beginPath(); ctx.moveTo(L.x0, r.ly); ctx.lineTo(L.x1, r.ly); ctx.stroke();
        const texts = r.texts || [[null, r.ly]];
        texts.forEach(([s,ty])=>ctx.fillText(s===null ? ds.label : s, L.tx, ty));
      });
    }
    ctx.restore();
  }
};

function lineDS(label, data, color, width, order, extra){
  return Object.assign({label, data, borderColor:color, backgroundColor:color, borderWidth:width,
    pointRadius:0, tension:0, fill:false, order, borderJoinStyle:'round', borderCapStyle:'round'}, extra||{});
}

function makeChart(id, datasets, yMin, yMax, yTicks, yLabels, yTitle){
  return new Chart(document.getElementById(id), {
    type:'line',
    data:{labels:HOURS, datasets},
    options:{
      responsive:false, animation:false, devicePixelRatio:1, events:[],
      layout:{padding:{left:0, top:296, right:821, bottom:0}},
      plugins:{legend:{display:false}, tooltip:{enabled:false}},
      scales:{
        x:{type:'linear', min:0, max:24,
           afterBuildTicks:s=>{ s.ticks = X_TICKS.map(v=>({value:v})); },
           afterFit:s=>{ s.height = 197; },
           ticks:{autoSkip:false, maxRotation:0, padding:28, color:'#262626', font:{family:FONT, size:36}, callback:(v)=>String(v)},
           grid:{display:false, drawTicks:false},
           border:{display:true, color:'#262626', width:3},
           title:{display:true, text:X_TITLE, color:'#262626', font:{family:FONT, size:47}, padding:{top:0, bottom:52}}},
        y:{type:'linear', min:yMin, max:yMax,
           afterBuildTicks:s=>{ s.ticks = yTicks.map(v=>({value:v})); },
           afterFit:s=>{ s.width = 374; },
           ticks:{autoSkip:false, padding:28, color:AXIS_BLUE, font:{family:FONT, size:36},
                  callback:(v,i)=> yLabels ? yLabels[i] : String(v)},
           grid:{display:false, drawTicks:false},
           border:{display:true, color:AXIS_BLUE, width:3},
           title:{display:true, text:yTitle, color:AXIS_BLUE, font:{family:FONT, size:46}, padding:{top:213, bottom:0}}}
      }
    },
    plugins:[decoPlugin]
  });
}

function runsData(runs, v){
  const out = [];
  runs.forEach(([a,b])=>{ out.push({x:a,y:v},{x:b,y:v},{x:b,y:null}); });
  return out;
}
function bandData(vals){ return BAND_HOURS.map((t,i)=>({x:t, y:vals[i]})); }

makeChart('c1', [
  lineDS('MWR 2C (tan = wet window)', BT23_MWR2C, C_BLUE, 5, 3),
  lineDS('MWR 3C', BT23_MWR3C, C_LBLUE, 6, 2),
  lineDS('Phy-Iter', BT23_PHYITER, C_ORANGE, 10, 1)
], 17.58, 32.78, Y1_TICKS, null, 'Zenith BT 23 GHz, K');

makeChart('c2', [
  lineDS('MWR2C', BT31_MWR2C, C_BLUE, 5, 3),
  lineDS('MWR 3C', BT31_MWR3C, C_LBLUE, 6, 2),
  lineDS('Phy-Iter', BT31_PHYITER, C_ORANGE, 10, 1)
], 12.32, 31.19, Y2_TICKS, null, 'Zenith BT 31 GHz, K');

makeChart('c3', [
  lineDS('MWR 2C PWV', PWV_MWR2C, C_BLUE, 5, 3),
  lineDS('MWR 3C PWV', PWV_MWR3C, C_LBLUE, 6, 2),
  lineDS('Phy-Iter PWV', PWV_PHYITER, C_ORANGE, 10, 1)
], 0.8, 1.3348, Y3_TICKS, Y3_LABELS, 'Precip. Water Vapor, mm');

makeChart('c4', [
  lineDS('MWR 2C LWP', LWP_MWR2C, C_BLUE, 5, 4),
  lineDS('MWR 3C LWP', LWP_MWR3C, C_LBLUE, 5, 3),
  lineDS('Phy-Iter LWP', LWP_PHYITER, C_ORANGE, 8, 2),
  lineDS('Adiabatic LWP', LWP_ADIABATIC, C_PURPLE, 5, 1),
  lineDS('adiabatic lo', bandData(ADIA_LO), 'rgba(0,0,0,0)', 0, 10),
  lineDS('adiabatic hi', bandData(ADIA_HI), 'rgba(0,0,0,0)', 0, 10, {fill:4, backgroundColor:'rgba(128,0,128,0.10)'}),
  lineDS('phy lo', bandData(PHYITER_LO), 'rgba(0,0,0,0)', 0, 11),
  lineDS('phy hi', bandData(PHYITER_HI), 'rgba(0,0,0,0)', 0, 11, {fill:6, backgroundColor:'rgba(255,140,0,0.22)'})
], -0.099, 3.093, Y4_TICKS, Y4_LABELS, 'log10 Liquid Water Path, log10(g/m\u00B2)');

const flagStyle = {showLine:true, spanGaps:false, pointRadius:5, pointBorderWidth:0, pointBackgroundColor:C_ORANGE};
makeChart('c5', [
  lineDS('flag 0', runsData(FLAG0_RUNS,0), C_ORANGE, 9, 1, flagStyle),
  lineDS('flag 3', runsData(FLAG3_RUNS,3), C_ORANGE, 9, 1, flagStyle),
  lineDS('flag 4', runsData(FLAG4_RUNS,4), C_ORANGE, 9, 1, flagStyle),
  lineDS('flag 5', runsData(FLAG5_RUNS,5), C_ORANGE, 9, 1, flagStyle),
  lineDS('flag 6', runsData(FLAG6_RUNS,6), C_ORANGE, 9, 1, flagStyle)
], -0.515, 11.53, Y5_TICKS, null, 'MWR Phy Iter DQ Flag');
</script>
</body></html>
